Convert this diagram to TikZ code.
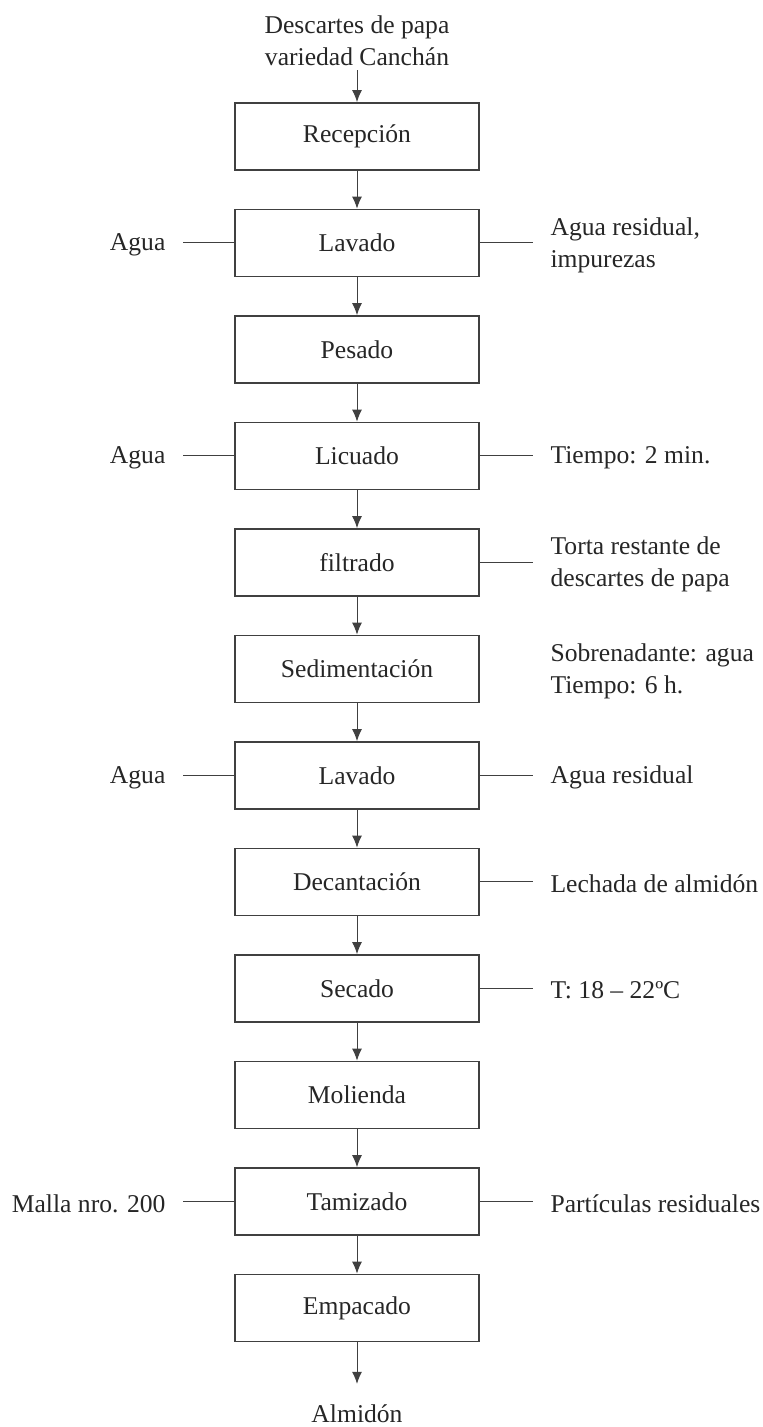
\documentclass[tikz,border=0pt]{standalone}
\usepackage{fontspec}
\setmainfont{Liberation Serif}
\usetikzlibrary{arrows.meta}
\begin{document}
\begin{tikzpicture}[>={Latex[length=9bp,width=7.5bp]},
  every node/.style={font=\fontsize{19.2bp}{24bp}\selectfont,text=black!85},
  proc/.style={draw=black!75,line width=1.3bp,rectangle,minimum width=183bp,minimum height=50.25bp,inner sep=0pt},
  lbl/.style={inner ysep=0pt,inner xsep=13bp,align=left,yshift=-1.5bp},
  link/.style={draw=black!75,line width=0.75bp}]
  \useasboundingbox (0bp,0bp) rectangle (572.25bp,1070.25bp);
  \node (src) at (267.75bp,1062.5bp) [anchor=north,align=center,inner sep=3.5bp] {Descartes de papa\\variedad Canchán};
  \node (rec) at (267.75bp,967.9bp) [proc] {Recepción};
  \node (lav1) at (267.75bp,888.0bp) [proc] {Lavado};
  \node (pes) at (267.75bp,808.1bp) [proc] {Pesado};
  \node (lic) at (267.75bp,728.25bp) [proc] {Licuado};
  \node (fil) at (267.75bp,648.4bp) [proc] {filtrado};
  \node (sed) at (267.75bp,568.5bp) [proc] {Sedimentación};
  \node (lav2) at (267.75bp,488.6bp) [proc] {Lavado};
  \node (dec) at (267.75bp,408.75bp) [proc] {Decantación};
  \node (sec) at (267.75bp,328.9bp) [proc] {Secado};
  \node (mol) at (267.75bp,249.0bp) [proc] {Molienda};
  \node (tam) at (267.75bp,169.1bp) [proc] {Tamizado};
  \node (emp) at (267.75bp,89.25bp) [proc] {Empacado};
  \node (alm) at (267.75bp,3.5bp) [anchor=base] {Almidón};
  % entradas
  \node (inLav1) at (137.25bp,888.0bp) [lbl,anchor=east] {Agua};
  \node (inLic) at (137.25bp,728.25bp) [lbl,anchor=east] {Agua};
  \node (inLav2) at (137.25bp,488.6bp) [lbl,anchor=east] {Agua};
  \node (inTam) at (137.25bp,169.1bp) [lbl,anchor=east] {Malla nro. 200};
  % salidas
  \node (outLav1) at (399.75bp,888.0bp) [lbl,anchor=west] {Agua residual,\\impurezas};
  \node (outLic) at (399.75bp,728.25bp) [lbl,anchor=west] {Tiempo: 2 min.};
  \node (outFil) at (399.75bp,648.4bp) [lbl,anchor=west] {Torta restante de\\descartes de papa};
  \node (outSed) at (399.75bp,568.5bp) [lbl,anchor=west] {Sobrenadante: agua\\Tiempo: 6 h.};
  \node (outLav2) at (399.75bp,488.6bp) [lbl,anchor=west] {Agua residual};
  \node (outDec) at (399.75bp,408.75bp) [lbl,anchor=west] {Lechada de almidón};
  \node (outSec) at (399.75bp,328.9bp) [lbl,anchor=west] {T: 18 – 22ºC};
  \node (outTam) at (399.75bp,169.1bp) [lbl,anchor=west] {Partículas residuales};
  \draw [->,link] (src) -- (rec);
  \draw [->,link] (rec) -- (lav1);
  \draw [->,link] (lav1) -- (pes);
  \draw [->,link] (pes) -- (lic);
  \draw [->,link] (lic) -- (fil);
  \draw [->,link] (fil) -- (sed);
  \draw [->,link] (sed) -- (lav2);
  \draw [->,link] (lav2) -- (dec);
  \draw [->,link] (dec) -- (sec);
  \draw [->,link] (sec) -- (mol);
  \draw [->,link] (mol) -- (tam);
  \draw [->,link] (tam) -- (emp);
  \draw [->,link,shorten >=12bp] (emp) -- (alm);
  \draw [link] (lav1.west -| inLav1.east) -- (lav1.west);
  \draw [link] (lic.west -| inLic.east) -- (lic.west);
  \draw [link] (lav2.west -| inLav2.east) -- (lav2.west);
  \draw [link] (tam.west -| inTam.east) -- (tam.west);
  \draw [link] (lav1.east) -- (lav1.east -| outLav1.west);
  \draw [link] (lic.east) -- (lic.east -| outLic.west);
  \draw [link] (fil.east) -- (fil.east -| outFil.west);
  \draw [link] (lav2.east) -- (lav2.east -| outLav2.west);
  \draw [link] (dec.east) -- (dec.east -| outDec.west);
  \draw [link] (sec.east) -- (sec.east -| outSec.west);
  \draw [link] (tam.east) -- (tam.east -| outTam.west);
\end{tikzpicture}
\end{document}
